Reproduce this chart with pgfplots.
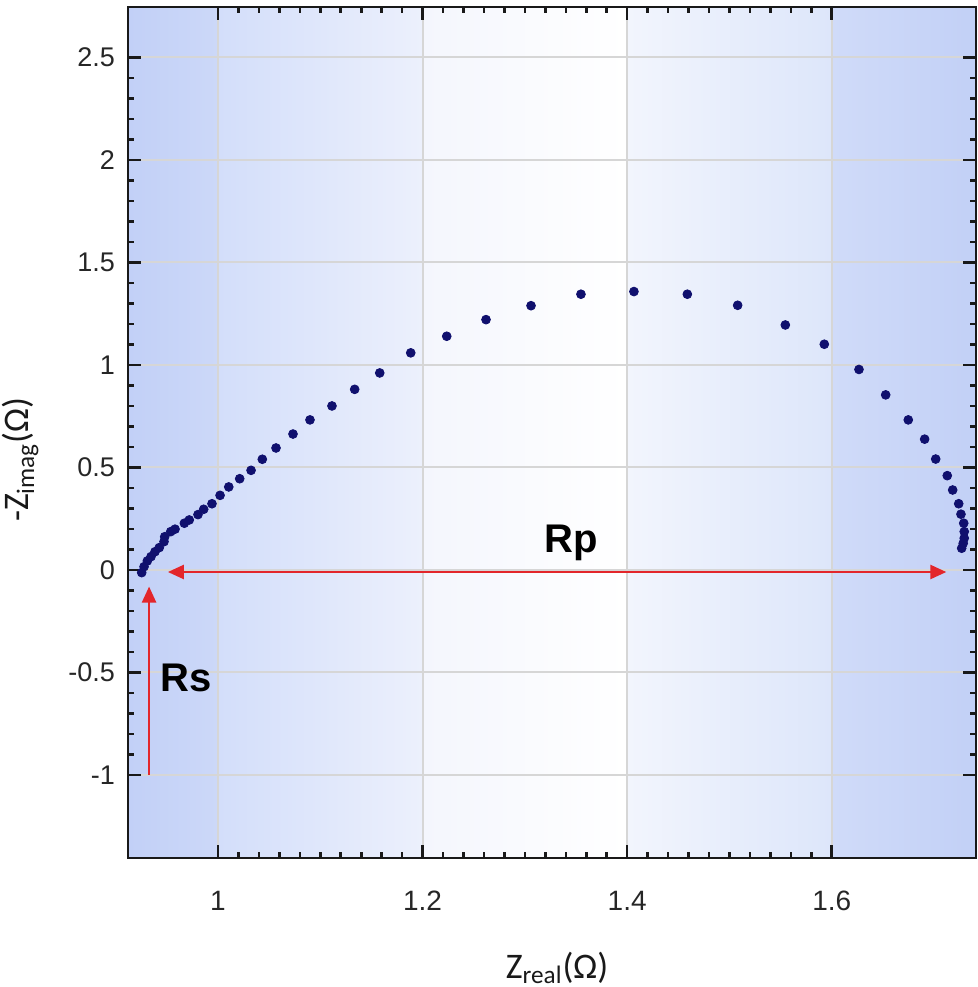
\documentclass[border=0pt]{standalone}
\usepackage{fontspec}
\setmainfont{Liberation Sans}
\newfontfamily\calibri{Carlito}
\usepackage{pgfplots}
\pgfplotsset{compat=1.18}
\usetikzlibrary{arrows.meta}
\definecolor{bgA}{HTML}{C2D0F7}
\definecolor{bgB}{HTML}{CCD8F8}
\definecolor{bgC}{HTML}{D3DEFA}
\definecolor{bgD}{HTML}{ECF0FC}
\definecolor{bgE}{HTML}{F4F6FD}
\definecolor{bgF}{HTML}{F2F5FD}
\definecolor{bgG}{HTML}{DDE6FA}
\definecolor{bgH}{HTML}{D0DBF9}
\definecolor{bgI}{HTML}{C2D0F6}
\definecolor{navy}{HTML}{10106E}
\definecolor{arrowred}{HTML}{E3262B}
\begin{document}
\begin{tikzpicture}
\begin{axis}[name=ax, at={(0,0)}, anchor=south west,
  set layers,
  scale only axis, width=424pt, height=425.5pt,
  xmin=0.912, xmax=1.741, ymin=-1.405, ymax=2.746,
  xtick={1,1.2,1.4,1.6}, ytick={-1,-0.5,0,0.5,1,1.5,2,2.5},
  minor x tick num=9, minor y tick num=4,
  tick align=inside, major tick length=6.5pt, minor tick length=3pt,
  grid=major, major grid style={draw=black!16, line width=1pt},
  axis line style={line width=1.4pt, black!90},
  every tick/.style={black!90, line width=1.3pt},
  /pgf/number format/assume math mode=true,
  xticklabel style={font=\fontsize{14}{14}\selectfont, text=black!85, yshift=-13pt},
  yticklabel style={font=\fontsize{13.5}{13.5}\selectfont, text=black!85, xshift=-3pt},
  xlabel={\calibri Z\textsubscript{real}(Ω)},
  ylabel={\calibri -Z\textsubscript{imag}(Ω)},
  label style={font=\fontsize{18}{18}\selectfont, text=black!90},
  x label style={at={(axis description cs:0.506,-0.129)}, anchor=center},
  y label style={at={(axis description cs:-0.127,0.468)}, anchor=center},
]
\begin{pgfonlayer}{axis background}
\fill[left color=bgA, right color=bgB] (axis cs:0.912,-1.405) rectangle (axis cs:1.0,2.746);
\fill[left color=bgC, right color=bgD] (axis cs:1.0,-1.405) rectangle (axis cs:1.2,2.746);
\fill[left color=bgE, right color=white] (axis cs:1.2,-1.405) rectangle (axis cs:1.4,2.746);
\fill[left color=bgF, right color=bgG] (axis cs:1.4,-1.405) rectangle (axis cs:1.6,2.746);
\fill[left color=bgH, right color=bgI] (axis cs:1.6,-1.405) rectangle (axis cs:1.741,2.746);
\end{pgfonlayer}
\addplot[only marks, mark=*, mark size=2.2pt, color=navy] coordinates {
(0.9254,-0.013) (0.9277,0.016) (0.9309,0.044) (0.9345,0.065) (0.9384,0.089)
(0.9426,0.109) (0.9472,0.138) (0.9479,0.162) (0.9538,0.187) (0.9580,0.199)
(0.9671,0.228) (0.9719,0.244) (0.9804,0.270) (0.9860,0.296) (0.9941,0.323)
(1.0020,0.364) (1.0105,0.405) (1.0212,0.445) (1.0323,0.486) (1.0433,0.540)
(1.0567,0.595) (1.0733,0.663) (1.0899,0.732) (1.1114,0.800) (1.1336,0.881)
(1.1581,0.961) (1.1884,1.059) (1.2236,1.140) (1.2620,1.221) (1.3060,1.289)
(1.3548,1.345) (1.4066,1.358) (1.4588,1.345) (1.5080,1.291) (1.5546,1.195)
(1.5927,1.101) (1.6266,0.978) (1.6527,0.854) (1.6748,0.732) (1.6908,0.638)
(1.7016,0.541) (1.7129,0.460) (1.7182,0.390) (1.7241,0.323) (1.7263,0.272)
(1.7290,0.228) (1.7295,0.187) (1.7295,0.155) (1.7285,0.130) (1.7270,0.106)
};
\draw[arrowred, line width=1.2pt, {Triangle[length=8pt,width=7pt]}-{Triangle[length=8pt,width=7pt]}]
  (axis cs:0.951,-0.01) -- (axis cs:1.712,-0.01);
\draw[arrowred, line width=1.2pt, -{Triangle[length=8pt,width=7pt]}]
  (axis cs:0.9326,-1.0) -- (axis cs:0.9326,-0.081);
\node[font=\bfseries\fontsize{20}{20}\selectfont, anchor=base] at (axis cs:1.345,0.083) {Rp};
\node[font=\bfseries\fontsize{20}{20}\selectfont, anchor=base west, inner sep=0pt] at (axis cs:0.9433,-0.595) {Rs};
\end{axis}
\pgfresetboundingbox
\path[use as bounding box] ([xshift=-64pt,yshift=-64.5pt]ax.south west) rectangle ([xshift=1pt,yshift=3.5pt]ax.north east);
\end{tikzpicture}
\end{document}
